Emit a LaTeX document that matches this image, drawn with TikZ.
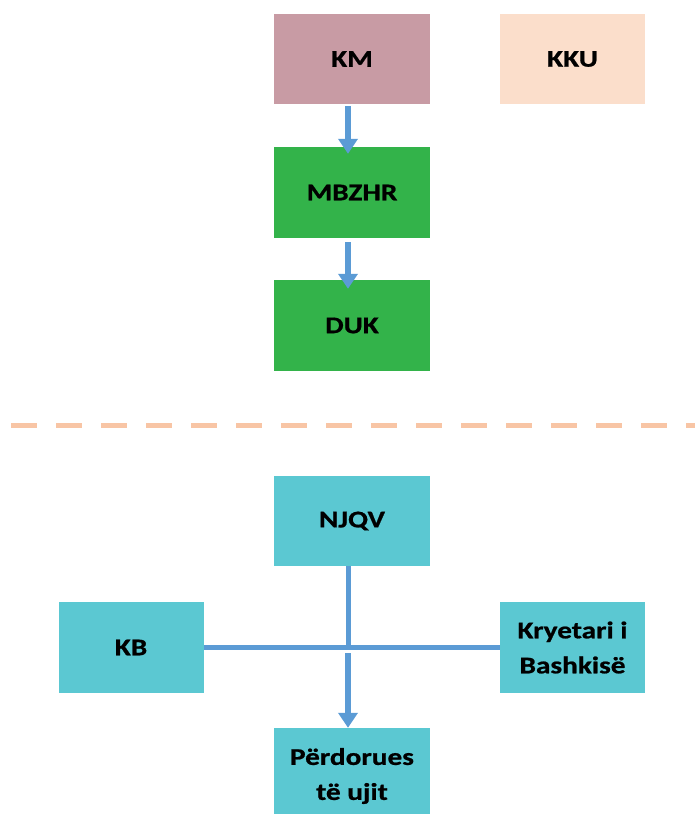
\documentclass[tikz,border=0pt]{standalone}
\usepackage{fontspec}
\setmainfont{Carlito}[FakeStretch=1.22]
\usetikzlibrary{arrows.meta}
\definecolor{kmcol}{HTML}{C89BA4}
\definecolor{kkucol}{HTML}{FBDECB}
\definecolor{grn}{HTML}{33B34A}
\definecolor{teal}{HTML}{5BC8D2}
\definecolor{conn}{HTML}{5B9BD5}
\definecolor{dashc}{HTML}{F8C5A5}
\tikzset{
  box/.style={draw=none, inner sep=0pt, align=center, text=black,
    font=\bfseries\fontsize{24}{35}\selectfont\addfontfeature{FakeBold=0.8}},
  wide/.style={minimum width=156pt},
  narrow/.style={minimum width=145pt},
  arr/.style={draw=conn, line width=5.5pt, -{Triangle[width=19pt,length=15pt]}},
  lin/.style={draw=conn, line width=5pt},
}
\begin{document}
\begin{tikzpicture}[x=1pt,y=-1pt]
\useasboundingbox (0,0) rectangle (695,814);
\node[box,wide,fill=kmcol,minimum height=90pt] (km) at (352,59) {KM};
\node[box,narrow,fill=kkucol,minimum height=90pt] (kku) at (572.5,59) {KKU};
\node[box,wide,fill=grn,minimum height=91pt] (mb) at (352,192.5) {MBZHR};
\node[box,wide,fill=grn,minimum height=91pt] (duk) at (352,325.5) {DUK};
\draw[dashc,line width=5pt,dash pattern=on 26pt off 19pt] (11,425) -- (695,425);
\node[box,wide,fill=teal,minimum height=90pt] (njqv) at (352,521) {NJQV};
\node[box,narrow,fill=teal,minimum height=91pt] (kb) at (131,647.5) {KB};
\node[box,narrow,fill=teal,minimum height=91pt] (kr) at (572.5,647.5) {Kryetari i\\Bashkisë};
\node[box,wide,fill=teal,minimum height=96pt] (pu) at (352,776) {Përdorues\\të ujit};
\coordinate (j1) at (348,648);
\coordinate (j2) at (348,653);
\draw[arr] ([xshift=-4pt,yshift=-2pt]km.south) -- ([xshift=-4pt,yshift=-7pt]mb.north);
\draw[arr] ([xshift=-4pt,yshift=-4pt]mb.south) -- ([xshift=-4pt,yshift=-9pt]duk.north);
\draw[lin] (kb.east) -- (kr.west);
\draw[lin] ([xshift=-4pt]njqv.south) -- (j1);
\draw[arr] (j2) -- ([xshift=-4pt]pu.north);
\end{tikzpicture}
\end{document}
